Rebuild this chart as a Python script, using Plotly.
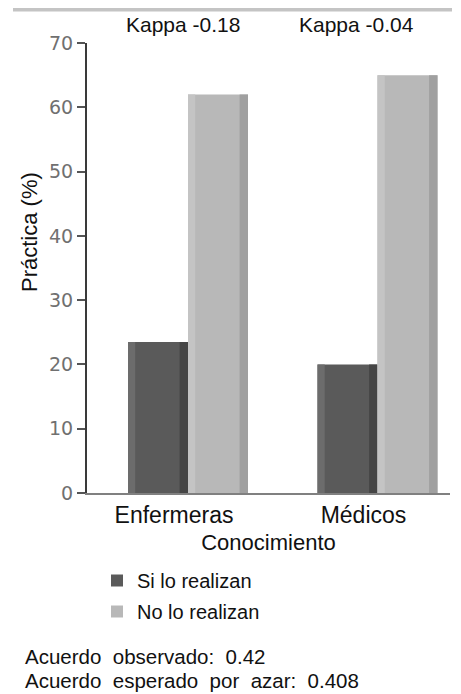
import plotly.graph_objects as go

# ---- data ----
categories = ["Enfermeras", "Médicos"]
series_names = ["Si lo realizan", "No lo realizan"]
si_values = [23.5, 20.0]
no_values = [62.0, 65.0]
kappa_labels = ["Kappa -0.18", "Kappa -0.04"]
y_ticks = [0, 10, 20, 30, 40, 50, 60, 70]
x_title = "Conocimiento"
y_title = "Práctica (%)"
footer_lines = ["Acuerdo  observado:  0.42", "Acuerdo  esperado  por  azar:  0.408"]

# ---- layout geometry (screen pixels; page body has an 8px margin) ----
OFF = 8
W, H = 461 - OFF, 694 - OFF
PLOT_L, PLOT_R, PLOT_T, PLOT_B = 87, 450, 43, 493  # screen px
ML = PLOT_L - OFF
MR = (W + OFF) - PLOT_R
MT = PLOT_T - OFF
MB = (H + OFF) - PLOT_B
PW = PLOT_R - PLOT_L
PH = PLOT_B - PLOT_T
UNIT = 189.5          # px per category
CAT0 = 188            # px of first category centre
BW = 60 / UNIT        # bar width in category units


def px_x(px):
    return (px - PLOT_L) / PW


def px_y(py):
    return (PLOT_B - py) / PH


FONT = "Liberation Sans, Arial, sans-serif"

fig = go.Figure()
series = [
    (series_names[0], si_values, -BW, "#5a5a5a", "#6c6c6c", "#454545"),
    (series_names[1], no_values, 0.0, "#b8b8b8", "#c4c4c4", "#a0a0a0"),
]
for name, vals, off, main_c, left_c, right_c in series:
    fig.add_trace(go.Bar(x=categories, y=vals, name=name, offset=off, width=BW,
                         marker=dict(color=main_c, line=dict(width=0)), legendgroup=name))
    fig.add_trace(go.Bar(x=categories, y=vals, name=name, offset=off, width=BW * 0.12,
                         marker=dict(color=left_c, line=dict(width=0)), legendgroup=name,
                         showlegend=False, hoverinfo="skip"))
    fig.add_trace(go.Bar(x=categories, y=vals, name=name, offset=off + BW * 0.86, width=BW * 0.14,
                         marker=dict(color=right_c, line=dict(width=0)), legendgroup=name,
                         showlegend=False, hoverinfo="skip"))

annotations = []
for i, lab in enumerate(kappa_labels):
    annotations.append(dict(x=px_x([183, 356][i]), y=px_y(25), xref="paper", yref="paper",
                            text=lab, showarrow=False, xanchor="center", yanchor="middle",
                            font=dict(family=FONT, size=21, color="#111")))
for i, line in enumerate(footer_lines):
    annotations.append(dict(x=px_x(23), y=px_y([656, 680][i]), xref="paper", yref="paper",
                            text=line.replace("  ", " \u00a0"), showarrow=False,
                            xanchor="left", yanchor="middle",
                            font=dict(family=FONT, size=20.5, color="#111")))
annotations.append(dict(x=px_x(29), y=px_y(232), xref="paper", yref="paper",
                        text=y_title, textangle=-90, showarrow=False,
                        xanchor="center", yanchor="middle",
                        font=dict(family=FONT, size=22, color="#111")))

fig.update_layout(
    width=W, height=H,
    margin=dict(l=ML, r=MR, t=MT, b=MB, pad=0),
    paper_bgcolor="white", plot_bgcolor="white",
    barmode="overlay",
    font=dict(family=FONT, color="#111"),
    showlegend=True,
    legend=dict(x=px_x(97), y=px_y(561), xanchor="left", yanchor="top",
                font=dict(family=FONT, size=20, color="#111"),
                bgcolor="rgba(0,0,0,0)", itemwidth=30, tracegroupgap=2),
    annotations=annotations,
    shapes=[dict(type="rect", xref="paper", yref="paper",
                 x0=px_x(13), x1=px_x(452), y0=px_y(11.5), y1=px_y(8),
                 fillcolor="#c4c4c4", line=dict(width=0))],
)

fig.update_xaxes(
    range=[-(CAT0 - PLOT_L) / UNIT, (PLOT_R - CAT0) / UNIT],
    showline=True, linecolor="#808080", linewidth=2,
    ticks="", showgrid=False, zeroline=False,
    tickfont=dict(family=FONT, size=23, color="#111"),
    ticklabelshift=-14,
    title=dict(text=x_title, font=dict(family=FONT, size=22, color="#111"), standoff=8),
)
fig.update_yaxes(
    range=[0, 70], tickvals=y_ticks,
    showline=True, linecolor="#3a3a3a", linewidth=2,
    ticks="outside", ticklen=8, tickwidth=2, tickcolor="#555",
    showgrid=False, zeroline=False,
    tickfont=dict(family="DejaVu Sans, sans-serif", size=19, color="#707070"),
    title=dict(text=""),
)

fig.write_html("out.html")
